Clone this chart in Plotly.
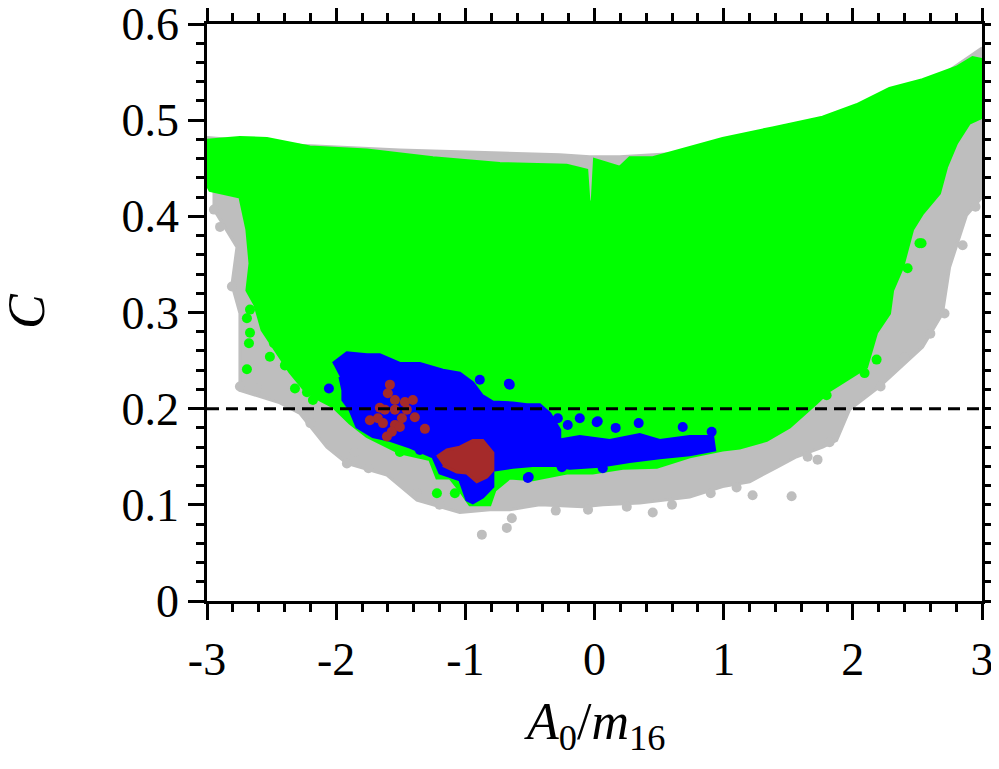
import plotly.graph_objects as go

# outlines of the point clouds (x = A0/m16, y = C)
gray_x = [-3.0, -2.745, -2.28, -1.507, -0.733, -0.269, -0.037, 0.195, 0.814, 1.356, 1.898, 2.362, 2.749, 3.0,
          3.0, 2.88, 2.749, 2.694, 2.54, 2.207, 1.975, 1.874, 1.766, 1.565, 1.41, 1.201, 0.992, 0.737, 0.35,
          0.064, -0.091, -0.424, -0.656, -0.81, -1.043, -1.375, -1.607, -1.917, -2.072, -2.28, -2.435, -2.745,
          -2.745, -2.807, -2.768, -2.946, -2.946, -3.0]
gray_y = [0.482, 0.479, 0.474, 0.469, 0.466, 0.464, 0.462, 0.462, 0.467, 0.481, 0.502, 0.526, 0.552, 0.575,
          0.420, 0.401, 0.347, 0.299, 0.264, 0.223, 0.199, 0.167, 0.160, 0.150, 0.139, 0.124, 0.119, 0.108, 0.102,
          0.100, 0.098, 0.100, 0.095, 0.095, 0.092, 0.105, 0.131, 0.143, 0.160, 0.195, 0.206, 0.219,
          0.299, 0.329, 0.368, 0.407, 0.435, 0.451]

gray_pts_x = [-0.872, -0.679, -0.640, 0.451, 1.526, 1.224, 1.727, -2.899, -2.946, -2.807, -2.745, -2.613,
              -1.917, -1.855, -1.375, 2.710, 2.400, 2.215, 0.250, 0.600, 0.900, 1.100, 1.650, 1.820,
              -0.300, -0.050, -1.200, -1.750, -2.200, 2.600, 2.850, 2.950]
gray_pts_y = [0.069, 0.076, 0.086, 0.092, 0.109, 0.110, 0.147, 0.389, 0.407, 0.327, 0.223, 0.221,
              0.143, 0.155, 0.112, 0.299, 0.253, 0.223, 0.098, 0.100, 0.112, 0.118, 0.150, 0.165,
              0.094, 0.095, 0.100, 0.138, 0.185, 0.278, 0.370, 0.410]

green_x = [-3.0, -2.745, -2.536, -2.203, -1.762, -1.251, -0.733, -0.215, -0.060, -0.044, -0.021, 0.0, 0.195,
           0.273, 0.451, 0.737, 0.992, 1.379, 1.766, 2.029, 2.284, 2.540, 2.803, 2.927, 3.0,
           3.0, 2.903, 2.803, 2.725, 2.671, 2.540, 2.462, 2.385, 2.308, 2.284, 2.184, 2.106, 1.821, 1.720,
           1.511, 1.333, 1.124, 0.992, 0.737, 0.482, 0.219, -0.014, -0.215, -0.478, -0.656, -0.772, -0.810,
           -0.965, -1.043, -1.120, -1.220, -1.275, -1.507, -1.762, -1.894, -2.025, -2.126, -2.242, -2.358,
           -2.474, -2.574, -2.629, -2.691, -2.667, -2.691, -2.745, -2.977, -3.0]
green_y = [0.479, 0.482, 0.481, 0.472, 0.469, 0.461, 0.455, 0.453, 0.448, 0.417, 0.407, 0.459, 0.451,
           0.461, 0.461, 0.472, 0.481, 0.492, 0.503, 0.516, 0.533, 0.542, 0.555, 0.565, 0.563,
           0.503, 0.497, 0.476, 0.451, 0.424, 0.403, 0.386, 0.347, 0.323, 0.299, 0.279, 0.243, 0.219, 0.206,
           0.181, 0.167, 0.159, 0.157, 0.150, 0.139, 0.138, 0.133, 0.133, 0.126, 0.128, 0.115, 0.100,
           0.100, 0.115, 0.128, 0.128, 0.147, 0.154, 0.171, 0.185, 0.202, 0.209, 0.219, 0.238,
           0.261, 0.282, 0.308, 0.323, 0.351, 0.386, 0.420, 0.427, 0.433]

green_pts_x = [-2.691, -2.675, -2.667, -2.513, -2.397, -2.319, -2.226, -2.180, -2.141, -1.507, -1.220,
               -1.081, 2.516, 2.184, 2.091, 1.797, -2.381, -2.482, -2.667, -2.691, 2.532, 2.424]
green_pts_y = [0.241, 0.268, 0.279, 0.254, 0.245, 0.221, 0.217, 0.209, 0.219, 0.155, 0.112,
               0.112, 0.372, 0.251, 0.237, 0.214, 0.275, 0.268, 0.303, 0.294, 0.372, 0.346]

blue_x = [-2.025, -1.917, -1.762, -1.662, -1.507, -1.352, -1.174, -1.043, -0.942, -0.872, -0.787, -0.632,
          -0.524, -0.424, -0.346, -0.269, -0.269, -0.478, -0.632, -0.787, -0.787, -0.865, -0.942, -0.988,
          -1.043, -1.197, -1.251, -1.429, -1.584, -1.716, -1.839, -1.894, -1.948, -1.948, -1.971]
blue_y = [0.247, 0.258, 0.256, 0.256, 0.247, 0.247, 0.240, 0.237, 0.227, 0.214, 0.207, 0.206,
          0.204, 0.204, 0.195, 0.178, 0.141, 0.141, 0.139, 0.136, 0.119, 0.108, 0.102, 0.105,
          0.126, 0.133, 0.150, 0.160, 0.167, 0.171, 0.181, 0.199, 0.209, 0.219, 0.233]

blue_tail_x = [-0.292, -0.114, 0.118, 0.350, 0.505, 0.737, 0.915, 0.930, 0.737, 0.505, 0.273, 0.041, -0.192, -0.292]
blue_tail_y = [0.167, 0.171, 0.167, 0.173, 0.167, 0.171, 0.171, 0.157, 0.152, 0.149, 0.145, 0.140, 0.138, 0.140]

blue_pts_x = [-2.056, -1.352, -0.888, -0.663, -0.509, -0.656, -0.284, -0.207, 0.025, 0.164, 0.342, 0.683,
              0.907, -0.516, -0.253, 0.064, 0.017, -0.114]
blue_pts_y = [0.221, 0.157, 0.230, 0.226, 0.129, 0.225, 0.190, 0.183, 0.187, 0.180, 0.185, 0.181,
              0.176, 0.128, 0.139, 0.138, 0.186, 0.190]

brown_x = [-1.220, -1.143, -1.043, -0.942, -0.865, -0.787, -0.787, -0.834, -0.911, -0.988, -1.066, -1.174]
brown_y = [0.150, 0.157, 0.160, 0.167, 0.167, 0.154, 0.136, 0.129, 0.124, 0.133, 0.134, 0.141]

brown_pts_x = [-1.584, -1.600, -1.545, -1.468, -1.406, -1.453, -1.391, -1.491, -1.545, -1.623, -1.677,
               -1.739, -1.638, -1.545, -1.569, -1.607, -1.507, -1.313, -1.662]
brown_pts_y = [0.225, 0.216, 0.209, 0.207, 0.209, 0.199, 0.191, 0.190, 0.199, 0.199, 0.190,
               0.188, 0.185, 0.183, 0.176, 0.171, 0.181, 0.179, 0.201]

c_line = 0.2
x_ticks = [-3, -2, -1, 0, 1, 2, 3]
x_labels = ["-3", "-2", "-1", "0", "1", "2", "3"]
y_ticks = [0, 0.1, 0.2, 0.3, 0.4, 0.5, 0.6]
y_labels = ["0", "0.1", "0.2", "0.3", "0.4", "0.5", "0.6"]

GRAY = "#bebebe"
GREEN = "#00ff00"
BLUE = "#0000ff"
BROWN = "#a52a2a"


def cloud(fig, xs, ys, color):
    fig.add_trace(go.Scatter(x=xs, y=ys, mode="lines", fill="toself", fillcolor=color,
                             line=dict(color=color, width=3), hoverinfo="skip", showlegend=False))


def dots(fig, xs, ys, color):
    fig.add_trace(go.Scatter(x=xs, y=ys, mode="markers", marker=dict(color=color, size=10),
                             hoverinfo="skip", showlegend=False))


fig = go.Figure()
cloud(fig, gray_x, gray_y, GRAY)
dots(fig, gray_pts_x, gray_pts_y, GRAY)
cloud(fig, green_x, green_y, GREEN)
dots(fig, green_pts_x, green_pts_y, GREEN)
cloud(fig, blue_x, blue_y, BLUE)
cloud(fig, blue_tail_x, blue_tail_y, BLUE)
dots(fig, blue_pts_x, blue_pts_y, BLUE)
cloud(fig, brown_x, brown_y, BROWN)
dots(fig, brown_pts_x, brown_pts_y, BROWN)

fig.add_trace(go.Scatter(x=[x_ticks[0], x_ticks[-1]], y=[c_line, c_line], mode="lines",
                         line=dict(color="black", width=3, dash="12px,7px"),
                         hoverinfo="skip", showlegend=False))

axis_style = dict(showline=True, linecolor="black", linewidth=2.5, mirror="allticks",
                  ticks="outside", ticklen=16, tickwidth=2.5, tickcolor="black",
                  showgrid=False, zeroline=False, automargin=False, ticklabeloverflow="allow",
                  tickfont=dict(family="Liberation Serif", size=46, color="black"))

fig.update_xaxes(range=[-3, 3], tickvals=x_ticks, ticktext=x_labels,
                 minor=dict(dtick=0.2, ticklen=8, tickwidth=2.5, ticks="outside", tickcolor="black"),
                 **axis_style)
fig.update_yaxes(range=[0, 0.6], tickvals=y_ticks, ticktext=y_labels,
                 minor=dict(dtick=0.02, ticklen=8, tickwidth=2.5, ticks="outside", tickcolor="black"),
                 **axis_style)

fig.add_annotation(text="<i>A</i><sub>0</sub>/<i>m</i><sub>16</sub>", xref="paper", yref="paper",
                   x=0.5, y=-0.215, showarrow=False, xanchor="center", yanchor="middle",
                   font=dict(family="Liberation Serif", size=52, color="black"))
fig.add_annotation(text="<i>C</i>", xref="paper", yref="paper", x=-0.232, y=0.503, textangle=-90,
                   showarrow=False, xanchor="center", yanchor="middle",
                   font=dict(family="Liberation Serif", size=52, color="black"))

# the page adds an 8px body margin, so the figure is a bit smaller than the window
fig.update_layout(width=983, height=753, margin=dict(l=199, r=9, t=16, b=160),
                  plot_bgcolor="white", paper_bgcolor="white")

fig.write_html("out.html")
